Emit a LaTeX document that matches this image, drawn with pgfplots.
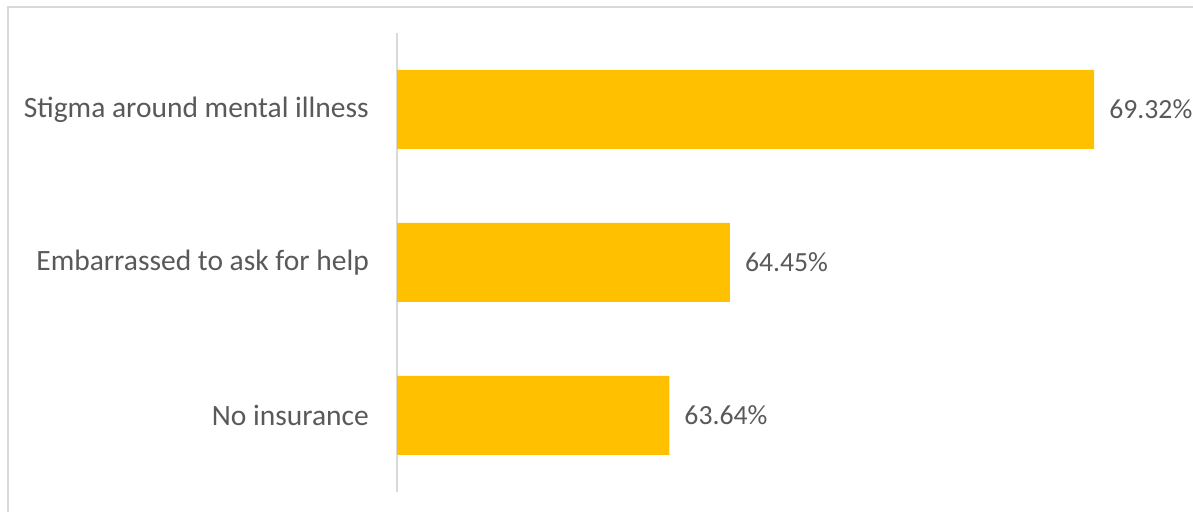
\documentclass[border=0pt]{standalone}
\usepackage{pgfplots}
\pgfplotsset{compat=1.18}
\usepackage{pgfplotstable}
\usepackage{fontspec}
\setmainfont{Carlito}
\definecolor{barc}{HTML}{FFC000}
\definecolor{txt}{HTML}{595959}
\definecolor{framec}{HTML}{D9D9D9}
\pgfplotstableread{
pos v
0 69.32
1 64.45
2 63.64
}\data
\begin{document}
\begin{tikzpicture}[x=1bp,y=1bp]
\useasboundingbox (0,0) rectangle (1193,512);
\draw[framec, line width=2bp] (8,0) -- (8,505) -- (1193,505);
\begin{axis}[
  at={(397bp,20bp)}, anchor=south west,
  scale only axis, width=748bp, height=459bp,
  xmin=0, xmax=10, ymin=-0.5, ymax=2.5, y dir=reverse,
  axis x line=none, axis y line*=left,
  y axis line style={framec, line width=1.2bp},
  ytick={0,1,2},
  yticklabels={Stigma around mental illness, Embarrassed to ask for help, No insurance},
  major tick length=0pt,
  yticklabel style={font=\fontsize{29.6}{29.6}\selectfont, text=txt, inner sep=0pt, xshift=-28bp},
  clip=false,
  /pgf/number format/assume math mode=true,
]
\addplot[xbar, fill=barc, draw=none, bar width=79bp,
  point meta=explicit,
  nodes near coords={\pgfmathprintnumber[fixed,precision=2,fixed zerofill,assume math mode=true]{\pgfplotspointmeta}\%},
  nodes near coords style={font=\fontsize{27.8}{27.8}\selectfont, text=txt, inner sep=0pt, anchor=west, xshift=15bp},
] table[x expr=\thisrow{v}-60, y=pos, meta=v] \data;
\end{axis}
\end{tikzpicture}
\end{document}
